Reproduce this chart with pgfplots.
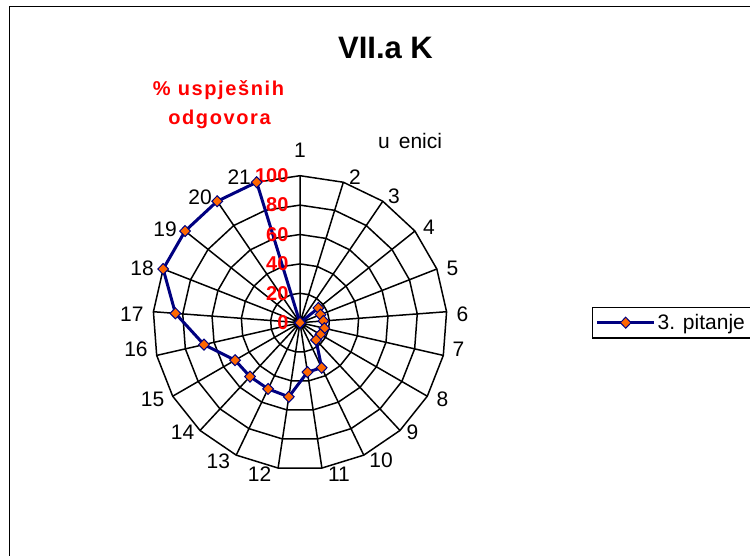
\documentclass[border=0pt]{standalone}
\usepackage{fontspec}
\setmainfont{Liberation Sans}
\usepackage{pgfplots}
\usepackage{pgfplotstable}
\pgfplotsset{compat=1.18}
\usepgfplotslibrary{polar}

\definecolor{navyline}{RGB}{0,0,128}
\definecolor{markorange}{RGB}{255,102,0}

% kut (stupnjevi) i postotak uspjesnih odgovora po uceniku
\pgfplotstableread{
a       v
90      0
72.857  0
55.714  0
38.571  16
21.429  15
4.286   16
347.143 17
330     16
312.857 16
295.714 34
278.571 34
261.429 51
244.286 50
227.143 50
210     51
192.857 67
175.714 85
158.571 100
141.429 100
124.286 100
107.143 100
90      0
}\pitanjetri

\begin{document}
\begin{tikzpicture}[x=1pt,y=1pt]
\path[use as bounding box] (0,0) rectangle (750,555);
\draw[black, line width=1.5pt] (9.5,548.5) rectangle (780,-30);

\node[font=\bfseries\fontsize{31}{36}\selectfont, anchor=base] at (385.5,496) {VII.a K};
\node[font=\bfseries\fontsize{20}{24}\selectfont\addfontfeature{LetterSpace=8}, text=red, anchor=base] at (218.5,459.3) {\% uspješnih};
\node[font=\bfseries\fontsize{20}{24}\selectfont\addfontfeature{LetterSpace=8}, text=red, anchor=base] at (219.5,430) {odgovora};
\node[font=\fontsize{21}{24}\selectfont, anchor=base west, inner sep=0pt] at (378,406) {u\hspace{9pt}enici};

\begin{polaraxis}[
  at={(300pt,232.3pt)}, anchor=center,
  scale only axis, width=294pt, height=294pt,
  xmin=0, xmax=360, ymin=0, ymax=100,
  clip=false,
  xtick={90,72.857,55.714,38.571,21.429,4.286,347.143,330,312.857,295.714,278.571,261.429,244.286,227.143,210,192.857,175.714,158.571,141.429,124.286,107.143},
  xticklabels=\empty,
  ytick=\empty,
  xmajorgrids,
  major grid style={black, line width=1.5pt},
  major tick length=0pt,
  axis line style={draw=none},
  legend style={at={(1.493,0.5)}, anchor=west, draw=black, line width=1.5pt,
    font=\fontsize{21}{24}\selectfont, inner xsep=3pt, inner ysep=5pt},
  legend image code/.code={
    \draw[mark repeat=2, mark phase=2, #1] plot coordinates {(0pt,0pt) (28.5pt,0pt) (57pt,0pt)};
  },
]
  % mreza: prstenovi 20..100
  \pgfplotsinvokeforeach{20,40,60,80,100}{
    \addplot[black, line width=1.5pt, forget plot] table[x=a, y expr=#1] {\pitanjetri};
  }

  \addplot[navyline, line width=3pt, mark=diamond*, mark size=5.5pt,
    mark options={fill=markorange, draw=navyline, line width=1pt, xscale=1.3}]
    table[x=a, y=v] {\pitanjetri};
  \addlegendentry{3. pitanje\rule{25pt}{0pt}}

  % oznake ucenika (kut/polumjer/tekst)
  \foreach \ang/\rr/\lab in {90/117.5/1, 69.36/106.1/2, 53.3/106.9/3, 36.6/109.3/4,
      19.7/110.2/5, 3.06/110.7/6, 350.6/109.3/7, 331.8/110.0/8, 315.7/106.9/9,
      300.4/108.9/10, 284.4/106.6/11, 255.1/106.9/12, 239.4/109.2/13, 223.1/109.4/14,
      207.4/113.0/15, 189.1/113.0/16, 177.0/114.6/17, 160.9/113.7/18, 145.2/111.8/19,
      128.6/109.0/20, 112.6/107.6/21} {
    \edef\tmp{\noexpand\node[font=\noexpand\fontsize{21}{24}\noexpand\selectfont, inner sep=0pt] at (axis cs:\ang,\rr) {\lab};}
    \tmp
  }

  % oznake radijalne osi
  \foreach \v in {0,20,40,60,80,100} {
    \edef\tmp{\noexpand\node[anchor=east, text=red, font=\noexpand\bfseries\noexpand\fontsize{20}{24}\noexpand\selectfont, xshift=-8pt] at (axis cs:90,\v) {\v};}
    \tmp
  }
\end{polaraxis}
\end{tikzpicture}
\end{document}
